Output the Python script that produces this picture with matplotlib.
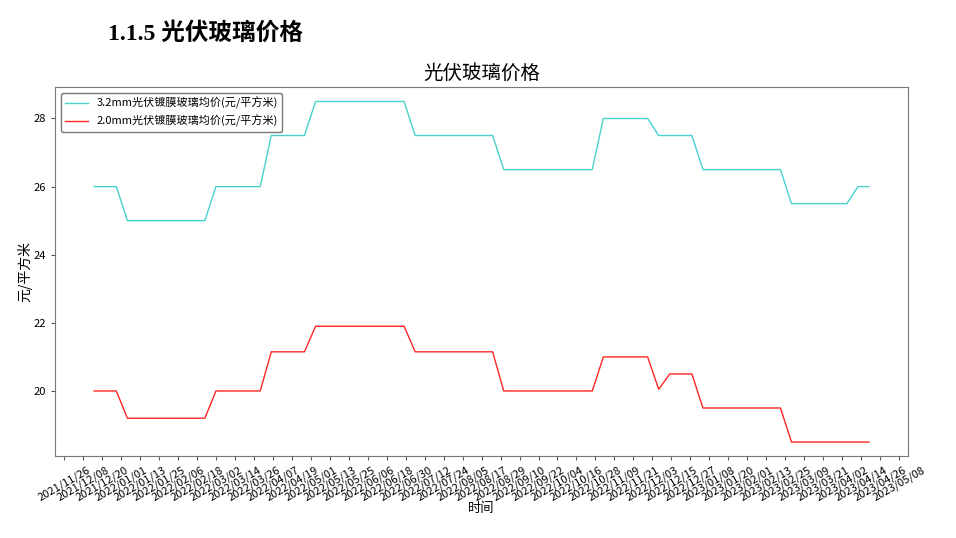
import numpy as np
import pandas as pd
import matplotlib
matplotlib.use('Agg')
from matplotlib import pyplot as plt
import matplotlib.dates as mdates

plt.rcParams['font.family'] = ['Noto Sans CJK SC', 'DejaVu Sans']
plt.rcParams['axes.unicode_minus'] = False

# weekly prices, first week 2021/12/15
dates = pd.date_range('2021-12-15', periods=71, freq='7D')
price_32mm = [26, 26, 26,
              25, 25, 25, 25, 25, 25, 25, 25,
              26, 26, 26, 26, 26,
              27.5, 27.5, 27.5, 27.5,
              28.5, 28.5, 28.5, 28.5, 28.5, 28.5, 28.5, 28.5, 28.5,
              27.5, 27.5, 27.5, 27.5, 27.5, 27.5, 27.5, 27.5,
              26.5, 26.5, 26.5, 26.5, 26.5, 26.5, 26.5, 26.5, 26.5,
              28, 28, 28, 28, 28,
              27.5, 27.5, 27.5, 27.5,
              26.5, 26.5, 26.5, 26.5, 26.5, 26.5, 26.5, 26.5,
              25.5, 25.5, 25.5, 25.5, 25.5, 25.5,
              26, 26]
price_20mm = [20, 20, 20,
              19.2, 19.2, 19.2, 19.2, 19.2, 19.2, 19.2, 19.2,
              20, 20, 20, 20, 20,
              21.15, 21.15, 21.15, 21.15,
              21.9, 21.9, 21.9, 21.9, 21.9, 21.9, 21.9, 21.9, 21.9,
              21.15, 21.15, 21.15, 21.15, 21.15, 21.15, 21.15, 21.15,
              20, 20, 20, 20, 20, 20, 20, 20, 20,
              21, 21, 21, 21, 21,
              20.05,
              20.5, 20.5, 20.5,
              19.5, 19.5, 19.5, 19.5, 19.5, 19.5, 19.5, 19.5,
              18.5, 18.5, 18.5, 18.5, 18.5, 18.5, 18.5, 18.5]
labels = ['3.2mm光伏镀膜玻璃均价(元/平方米)', '2.0mm光伏镀膜玻璃均价(元/平方米)']
tick_dates = pd.date_range('2021-11-26', '2023-05-08', freq='12D')

fig = plt.figure(figsize=(9.56, 5.38), dpi=100)
ax = fig.add_axes([0.058, 0.153, 0.8915, 0.685])

ax.plot(dates, price_32mm, color='mediumturquoise', lw=1, label=labels[0])
ax.plot(dates, price_20mm, color='red', lw=1, alpha=0.85, label=labels[1])

ax.set_ylim(18.1, 28.92)
ax.set_yticks([20, 22, 24, 26, 28])
ax.set_xticks(tick_dates)
ax.xaxis.set_major_formatter(mdates.DateFormatter('%Y/%m/%d'))
for lab in ax.get_xticklabels():
    lab.set_rotation(30)
    lab.set_ha('center')
ax.tick_params(labelsize=8, length=3, color='#555555')
for sp in ax.spines.values():
    sp.set_color('#777777')

ax.set_title('光伏玻璃价格', fontsize=14)
ax.set_xlabel('时间', fontsize=9.5, labelpad=-1)
ax.set_ylabel('元/平方米', fontsize=10, labelpad=1)
ax.legend(loc='upper left', fontsize=8, edgecolor='#555555', fancybox=True)

fig.text(108 / 956, 1 - 33 / 538, '1.1.5 光伏玻璃价格', fontsize=17, fontweight='bold',
         family=['Liberation Serif', 'Noto Sans CJK SC'], va='center', ha='left')

fig.savefig('out.png', dpi=100)
